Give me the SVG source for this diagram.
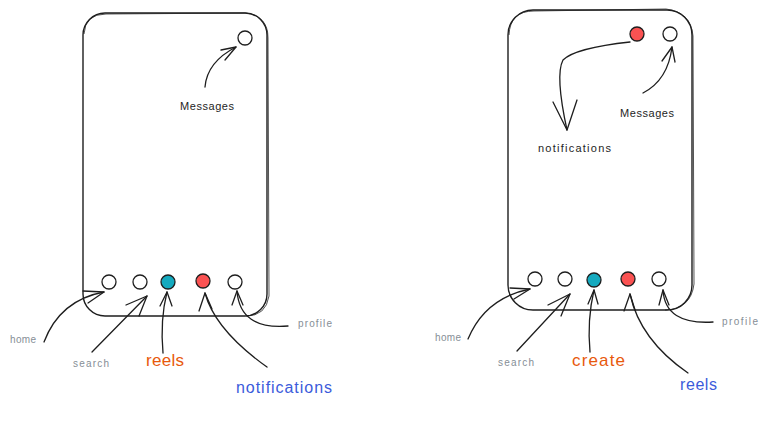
<svg xmlns="http://www.w3.org/2000/svg" width="769" height="429" viewBox="0 0 769 429">
<style>
.frame{fill:none;stroke:#1e1e1e;stroke-width:1.4}
.frame2{fill:none;stroke:#1e1e1e;stroke-width:0.9;opacity:0.85}
.dot{stroke:#1e1e1e;stroke-width:1.3;fill:#fff}
.teal{fill:#15aabf}
.red{fill:#fa5252}
.ln{fill:none;stroke:#1e1e1e;stroke-width:1.3;stroke-linecap:round;stroke-linejoin:round}
.t{font-family:"Liberation Sans",Arial,sans-serif}
.g{fill:#868e96;font-size:10px}
.k{fill:#1e1e1e;font-size:11px}
.o{fill:#e8590c;font-size:17px}
.b{fill:#3b5bdb;font-size:16px}
</style>
<rect width="769" height="429" fill="#fff"/>
<g id="phone-left">
<rect class="frame" x="83" y="13" width="184" height="303" rx="22"/>
<path class="frame2" d="M84 34 Q85 14 106 14 L246 13 Q268 16 268 38 L269 296 Q266 316 246 316"/>
</g>
<g id="phone-right">
<rect class="frame" x="508" y="10" width="184" height="300" rx="25"/>
<path class="frame2" d="M509 35 Q510 11 534 11 L666 9 Q691 12 693 36 L694 284 Q691 309 665 310"/>
</g>
<g id="nodes-left">
<circle id="l-msg" class="dot" cx="245" cy="38" r="7"/>
<circle id="l-home" class="dot" cx="109" cy="282" r="7"/>
<circle id="l-search" class="dot" cx="140" cy="282" r="7"/>
<circle id="l-reels" class="dot teal" cx="168" cy="282" r="7"/>
<circle id="l-notif" class="dot red" cx="203" cy="281" r="7"/>
<circle id="l-profile" class="dot" cx="235" cy="282" r="7"/>
</g>
<g id="nodes-right">
<circle id="r-notif" class="dot red" cx="637" cy="34" r="7"/>
<circle id="r-msg" class="dot" cx="670" cy="34" r="7"/>
<circle id="r-home" class="dot" cx="535" cy="279" r="7"/>
<circle id="r-search" class="dot" cx="565" cy="279" r="7"/>
<circle id="r-create" class="dot teal" cx="594" cy="280" r="7"/>
<circle id="r-reels" class="dot red" cx="628" cy="279" r="7"/>
<circle id="r-profile" class="dot" cx="659" cy="279" r="7"/>
</g>
<g id="connectors">
<path class="ln" d="M205 87 Q207 62 236 47"/>
<path class="ln" d="M221 50 L236 47 L225 60"/>
<path class="ln" d="M44 342 Q60 300 104 292"/>
<path class="ln" d="M83 291 L104 292 L88 303"/>
<path class="ln" d="M92 352 L147 296"/>
<path class="ln" d="M126 305 L147 296 L139 316"/>
<path class="ln" d="M163 353 Q160 320 167 292"/>
<path class="ln" d="M160 306 L167 292 L172 306"/>
<path class="ln" d="M267 367 Q215 330 205 293"/>
<path class="ln" d="M199 311 L205 293 L212 309"/>
<path class="ln" d="M288 326 Q240 330 237 291"/>
<path class="ln" d="M232 305 L237 291 L243 305"/>
<path class="ln" d="M630 42 Q575 48 563 60 Q555 75 567 130"/>
<path class="ln" d="M553 102 L567 130 L577 100"/>
<path class="ln" d="M643 93 Q668 80 672 47"/>
<path class="ln" d="M662 61 L672 47 L675 62"/>
<path class="ln" d="M468 339 Q485 298 530 289"/>
<path class="ln" d="M510 288 L530 289 L514 299"/>
<path class="ln" d="M517 351 L570 294"/>
<path class="ln" d="M548 305 L570 294 L561 316"/>
<path class="ln" d="M590 352 Q587 320 594 290"/>
<path class="ln" d="M588 304 L594 290 L598 304"/>
<path class="ln" d="M688 373 Q640 340 630 294"/>
<path class="ln" d="M624 311 L630 294 L635 310"/>
<path class="ln" d="M713 322 Q665 325 663 290"/>
<path class="ln" d="M659 305 L663 290 L669 305"/>
</g>
<g id="labels">
<text class="t k" x="180" y="110" textLength="54">Messages</text>
<text class="t g" x="10" y="343" textLength="26">home</text>
<text class="t g" x="73" y="367" textLength="36">search</text>
<text class="t o" x="146" y="366" textLength="38">reels</text>
<text class="t b" x="236" y="393" textLength="96">notifications</text>
<text class="t g" x="298" y="327" textLength="34">profile</text>
<text class="t k" x="538" y="152" textLength="73">notifications</text>
<text class="t k" x="620" y="117" textLength="54">Messages</text>
<text class="t g" x="435" y="341" textLength="26">home</text>
<text class="t g" x="498" y="366" textLength="36">search</text>
<text class="t o" x="572" y="366" textLength="53">create</text>
<text class="t b" x="680" y="390" textLength="37">reels</text>
<text class="t g" x="722" y="325" textLength="36">profile</text>
</g>
</svg>
